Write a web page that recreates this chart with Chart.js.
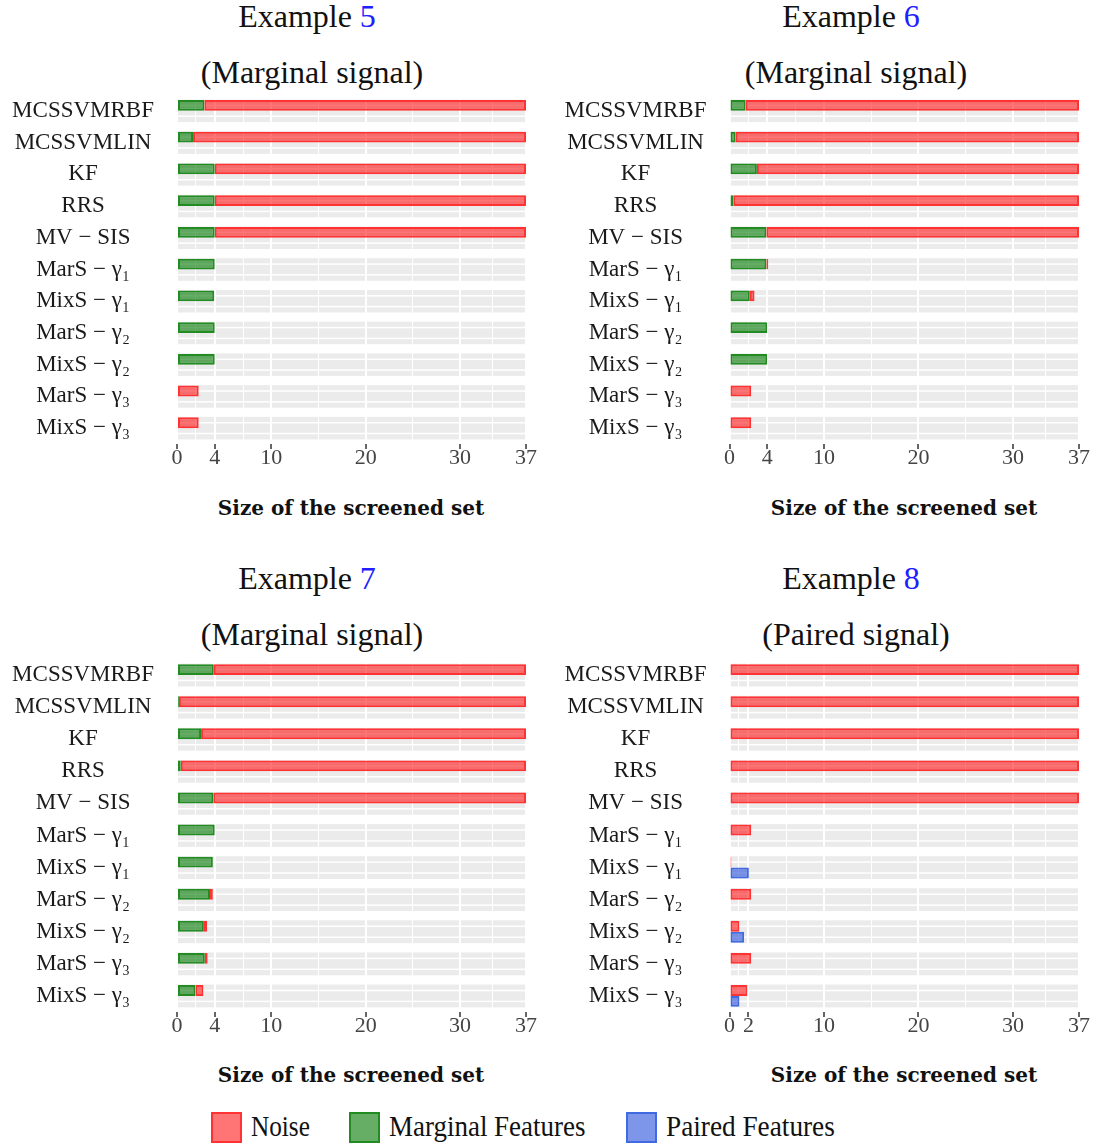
<!DOCTYPE html>
<html>
<head>
<meta charset="utf-8">
<script src="https://cdn.jsdelivr.net/npm/chart.js@4.4.1/dist/chart.umd.min.js"></script>
<style>
  body { margin: 0; background: #fff; }
  #page { position: relative; width: 1094px; height: 1145px; overflow: hidden; }
  canvas { position: absolute; }
  .title { position: absolute; font-family: "Liberation Serif", serif; font-size: 32px; line-height: 1; color: #111; white-space: nowrap; transform: translateX(-50%); }
  .title b { font-weight: normal; color: #2020ff; }
  .xtitle { position: absolute; font-family: "DejaVu Serif", serif; font-weight: bold; font-size: 20px; line-height: 1; color: #111; white-space: nowrap; transform: translateX(-50%); }
  .key { position: absolute; top: 1112px; width: 27px; height: 27px; border: 2px solid; }
  .keytxt { position: absolute; top: 1109px; font-family: "Liberation Serif", serif; font-size: 29px; line-height: 1.2; color: #111; white-space: nowrap; transform-origin: 0 50%; }
</style>
</head>
<body>
<div id="page">
  <div class="title" style="left:307px; top:0px">Example <b>5</b></div>
  <div class="title" style="left:312px; top:56px">(Marginal signal)</div>
  <div class="title" style="left:851px; top:0px">Example <b>6</b></div>
  <div class="title" style="left:856px; top:56px">(Marginal signal)</div>
  <div class="title" style="left:307px; top:562px">Example <b>7</b></div>
  <div class="title" style="left:312px; top:618px">(Marginal signal)</div>
  <div class="title" style="left:851px; top:562px">Example <b>8</b></div>
  <div class="title" style="left:856px; top:618px">(Paired signal)</div>

  <canvas id="c5" style="left:0px; top:88px" width="545" height="388"></canvas>
  <canvas id="c6" style="left:552px; top:88px" width="542" height="388"></canvas>
  <canvas id="c7" style="left:0px; top:652px" width="545" height="392"></canvas>
  <canvas id="c8" style="left:552px; top:652px" width="542" height="392"></canvas>

  <div class="xtitle" style="left:351px; top:498px">Size of the screened set</div>
  <div class="xtitle" style="left:904px; top:498px">Size of the screened set</div>
  <div class="xtitle" style="left:351px; top:1065px">Size of the screened set</div>
  <div class="xtitle" style="left:904px; top:1065px">Size of the screened set</div>

  <div class="key" style="left:211px; background:rgba(255,0,0,0.54); border-color:#ff3333"></div>
  <div class="keytxt" style="left:251px; transform:scaleX(0.87)">Noise</div>
  <div class="key" style="left:349px; background:rgba(0,120,0,0.6); border-color:#228b22"></div>
  <div class="keytxt" style="left:389px; transform:scaleX(0.93)">Marginal Features</div>
  <div class="key" style="left:626px; background:rgba(40,80,220,0.6); border-color:#4169e1"></div>
  <div class="keytxt" style="left:666px; transform:scaleX(0.94)">Paired Features</div>
</div>
<script>
const categories = ['MCSSVMRBF', 'MCSSVMLIN', 'KF', 'RRS', 'MV \u2212 SIS',
  'MarS \u2212 \u03b3\u2081', 'MixS \u2212 \u03b3\u2081', 'MarS \u2212 \u03b3\u2082',
  'MixS \u2212 \u03b3\u2082', 'MarS \u2212 \u03b3\u2083', 'MixS \u2212 \u03b3\u2083'];

// Example 5
const marginal5 = [2.9, 1.7, 4, 4, 4, 4, 3.95, 4, 4, 0, 0];
const noise5    = [34.1, 35.3, 33, 33, 33, 0, 0, 0, 0, 2.3, 2.3];
const paired5   = [0, 0, 0, 0, 0, 0, 0, 0, 0, 0, 0];
// Example 6
const marginal6 = [1.7, 0.65, 2.9, 0.4, 3.9, 3.9, 2.15, 4, 4, 0, 0];
const noise6    = [35.3, 36.35, 34.1, 36.6, 33.1, 0.2, 0.5, 0, 0, 2.3, 2.3];
const paired6   = [0, 0, 0, 0, 0, 0, 0, 0, 0, 0, 0];
// Example 7
const marginal7 = [3.9, 0.2, 2.55, 0.4, 3.85, 4, 3.8, 3.5, 2.85, 2.95, 1.95];
const noise7    = [33.1, 36.8, 34.45, 36.6, 33.15, 0, 0, 0.3, 0.35, 0.3, 0.85];
const paired7   = [0, 0, 0, 0, 0, 0, 0, 0, 0, 0, 0];
// Example 8
const marginal8 = [0, 0, 0, 0, 0, 0, 0, 0, 0, 0, 0];
const noise8    = [37, 37, 37, 37, 37, 2.3, 0.2, 2.3, 1.05, 2.3, 1.9];
const paired8   = [0, 0, 0, 0, 0, 0, 2.05, 0, 1.55, 0, 1.05];

// x axis breaks
const majorTicksA = [0, 4, 10, 20, 30, 37];
const minorTicksA = [2, 7, 15, 25, 33.5];
const majorTicksB = [0, 2, 10, 20, 30, 37];
const minorTicksB = [1, 6, 15, 25, 33.5];

const serif = 'Liberation Serif';

// gray band behind each category, with white lines through the two bar slots
const bandPlugin = {
  id: 'bands',
  beforeDraw(chart) {
    const {ctx, chartArea, scales: {y}} = chart;
    const step = y.getPixelForValue(1) - y.getPixelForValue(0);
    const w = chartArea.right - chartArea.left;
    ctx.save();
    categories.forEach((c, i) => {
      const mid = y.getPixelForValue(i);
      ctx.fillStyle = '#ebebeb';
      ctx.fillRect(chartArea.left, mid - step * 0.355, w, step * 0.71);
      ctx.fillStyle = '#ffffff';
      ctx.fillRect(chartArea.left, mid - step * 0.17 - 0.75, w, 1.5);
      ctx.fillRect(chartArea.left, mid + step * 0.17 - 0.75, w, 1.5);
    });
    ctx.restore();
  }
};

function bw(c) { return c.raw > 0 ? 2 : 0; }

function makeChart(id, marginal, noise, paired, majors, minors, yWidth, padRight, xHeight) {
  const allTicks = majors.concat(minors).sort((a, b) => a - b);
  new Chart(document.getElementById(id), {
    type: 'bar',
    data: {
      labels: categories,
      datasets: [
        { label: 'Marginal Features', data: marginal, stack: 's',
          backgroundColor: 'rgba(0,120,0,0.6)', borderColor: '#228b22', borderWidth: bw, borderSkipped: false },
        { label: 'Noise', data: noise, stack: 's',
          backgroundColor: 'rgba(255,0,0,0.54)', borderColor: '#ff3333', borderWidth: bw, borderSkipped: false },
        { label: 'Paired Features', data: paired, stack: 'p',
          backgroundColor: 'rgba(40,80,220,0.6)', borderColor: '#4169e1', borderWidth: bw, borderSkipped: false }
      ]
    },
    options: {
      indexAxis: 'y',
      responsive: false,
      animation: false,
      categoryPercentage: 0.68,
      barPercentage: 1,
      layout: { padding: { top: 7, right: padRight, left: 0, bottom: 0 } },
      plugins: { legend: { display: false }, tooltip: { enabled: false } },
      scales: {
        x: {
          type: 'linear', min: 0, max: 37, stacked: true,
          afterBuildTicks: s => { s.ticks = allTicks.map(v => ({ value: v })); },
          afterFit: s => { s.height = xHeight; },
          ticks: {
            autoSkip: false, maxRotation: 0, padding: -4, color: '#444',
            font: { family: serif, size: 22 },
            callback: v => majors.includes(v) ? String(v) : ''
          },
          grid: {
            color: '#ffffff',
            lineWidth: c => majors.includes(c.tick.value) ? 2 : 1,
            drawTicks: true, tickLength: 5, tickWidth: 1.5,
            tickColor: c => majors.includes(c.tick.value) ? '#333' : 'rgba(0,0,0,0)'
          },
          border: { display: false }
        },
        y: {
          stacked: true,
          afterFit: s => { s.width = yWidth; s.paddingTop = 0; s.paddingBottom = 0; },
          grid: { display: false, drawTicks: false },
          border: { display: false },
          ticks: { crossAlign: 'center', padding: 23, color: '#1a1a1a', font: { family: serif, size: 23 } }
        }
      }
    },
    plugins: [bandPlugin]
  });
}

makeChart('c5', marginal5, noise5, paired5, majorTicksA, minorTicksA, 177, 19, 32);
makeChart('c6', marginal6, noise6, paired6, majorTicksA, minorTicksA, 177.5, 15, 32);
makeChart('c7', marginal7, noise7, paired7, majorTicksA, minorTicksA, 177, 19, 32);
makeChart('c8', marginal8, noise8, paired8, majorTicksB, minorTicksB, 177.5, 15, 32);
</script>
</body>
</html>
